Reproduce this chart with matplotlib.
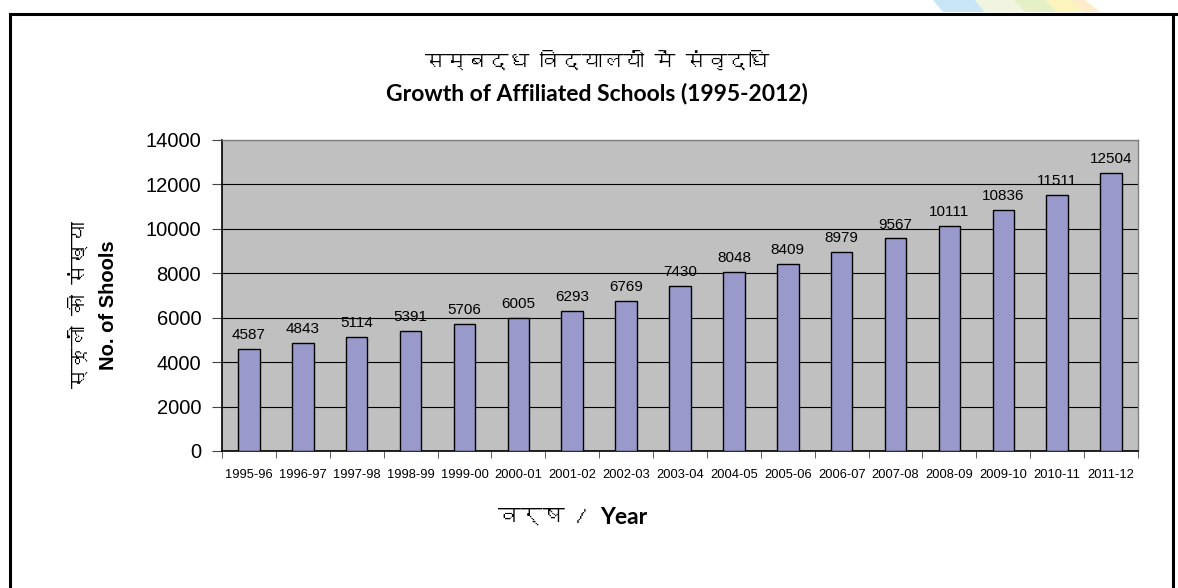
import numpy as np
import matplotlib
matplotlib.use("Agg")
import matplotlib.pyplot as plt
from matplotlib import font_manager
from matplotlib.ft2font import FT2Font
from matplotlib.patches import Polygon
from matplotlib.lines import Line2D

years = ["1995-96", "1996-97", "1997-98", "1998-99", "1999-00", "2000-01",
         "2001-02", "2002-03", "2003-04", "2004-05", "2005-06", "2006-07",
         "2007-08", "2008-09", "2009-10", "2010-11", "2011-12"]
schools = [4587, 4843, 5114, 5391, 5706, 6005, 6293, 6769, 7430, 8048,
           8409, 8979, 9567, 10111, 10836, 11511, 12504]
yticks = [0, 2000, 4000, 6000, 8000, 10000, 12000, 14000]

title_hi = "सम्बद्ध विद्यालयों में संवृद्धि"
title_en = "Growth of Affiliated Schools (1995-2012)"
ylabel_hi = "स्कूलों की संख्या"
ylabel_en = "No. of Shools"
xlabel_hi = "वर्ष"
xlabel_en = "Year"


# look for any installed font that has Devanagari glyphs
def find_deva():
    for f in font_manager.fontManager.ttflist:
        try:
            if FT2Font(f.fname).get_char_index(0x0938):
                return f.name
        except Exception:
            pass
    return None


deva = find_deva()
hi_family = [deva, "DejaVu Sans"] if deva else ["DejaVu Sans"]

W, H = 1178, 588
fig = plt.figure(figsize=(W / 100, H / 100), dpi=100)
fig.patch.set_facecolor("white")

# decorative strips at the top right
strips = [
    ((933, 975, 985, 943), "#c9e6f7"),
    ((975, 1013, 1025, 985), "#f1f5e0"),
    ((1013, 1045, 1057, 1025), "#e6f0c8"),
    ((1045, 1070, 1085, 1057), "#fbf4bd"),
    ((1070, 1085, 1100, 1085), "#fdebc9"),
]
for (a, b, c, d), col in strips:
    pts = [(a / W, 1), (b / W, 1), (c / W, 1 - 12 / H), (d / W, 1 - 12 / H)]
    fig.patches.append(Polygon(pts, closed=True, transform=fig.transFigure,
                               facecolor=col, edgecolor="none"))

# outer frame
fig.lines.append(Line2D([10 / W, 1], [1 - 14 / H] * 2, transform=fig.transFigure,
                        color="black", lw=2.2))
fig.lines.append(Line2D([10 / W, 10 / W], [0, 1 - 14 / H], transform=fig.transFigure,
                        color="black", lw=2.2))
fig.lines.append(Line2D([1173 / W, 1173 / W], [0, 1 - 14 / H], transform=fig.transFigure,
                        color="black", lw=2.2))

ax = fig.add_axes([222 / W, 1 - 451 / H, (1138 - 222) / W, (451 - 140) / H])
ax.set_facecolor("#c0c0c0")

x = np.arange(len(years))
bars = ax.bar(x, schools, width=0.4, color="#9999cc", edgecolor="black",
              linewidth=1.0, zorder=3)
ax.bar_label(bars, labels=[str(v) for v in schools], padding=5,
             fontsize=11, family="Liberation Sans")

ax.set_xlim(-0.5, len(years) - 0.5)
ax.set_ylim(0, 14000)
ax.set_yticks(yticks)
ax.set_yticklabels([str(v) for v in yticks], fontsize=14.5,
                   family="Liberation Sans")
ax.yaxis.grid(True, color="black", linewidth=0.8, zorder=1)
ax.set_axisbelow(True)

ax.set_xticks(x)
ax.set_xticklabels(years, fontsize=9.3, family="Liberation Sans")
ax.set_xticks(np.arange(len(years) + 1) - 0.5, minor=True)
ax.tick_params(axis="x", which="major", length=0, pad=13)
ax.tick_params(axis="x", which="minor", length=5, color="#444444")
ax.tick_params(axis="y", length=7, color="#444444", pad=8)

for s in ["top", "right"]:
    ax.spines[s].set_color("#808080")
    ax.spines[s].set_linewidth(1.0)
for s in ["left", "bottom"]:
    ax.spines[s].set_color("black")
    ax.spines[s].set_linewidth(1.2)

fig.text(597 / W, 1 - 61 / H, title_hi, ha="center", va="center",
         fontsize=15, fontweight="bold", family=hi_family)
fig.text(597 / W, 1 - 93 / H, title_en, ha="center", va="center",
         fontsize=16.5, fontweight="bold", family="Lato")

fig.text(79 / W, 1 - 305 / H, ylabel_hi, ha="center", va="center",
         rotation=90, fontsize=15, fontweight="bold", family=hi_family)
fig.text(109 / W, 1 - 305 / H, ylabel_en, ha="center", va="center",
         rotation=90, fontsize=14.5, fontweight="bold", family="Liberation Sans")

fig.text(598 / W, 1 - 517 / H, xlabel_hi + " / ", ha="right", va="center",
         fontsize=16, fontweight="bold", family=hi_family)
fig.text(600 / W, 1 - 517 / H, xlabel_en, ha="left", va="center",
         fontsize=16.5, fontweight="bold", family="Lato")

fig.savefig("out.png", dpi=100)
